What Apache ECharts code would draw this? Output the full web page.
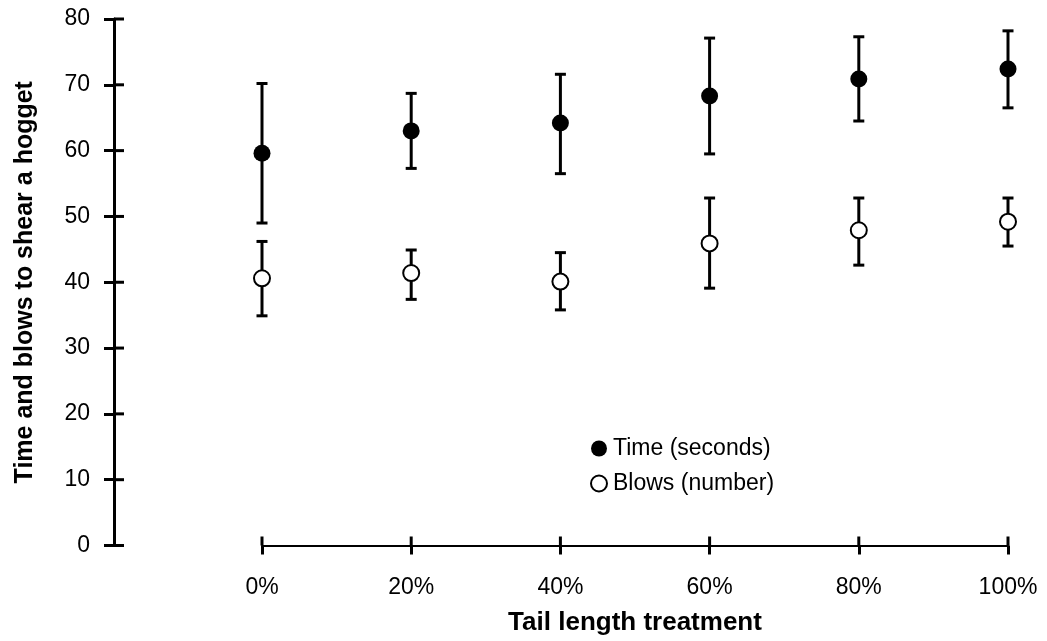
<!DOCTYPE html>
<html>
<head>
<meta charset="utf-8">
<script src="https://cdn.jsdelivr.net/npm/echarts@6/dist/echarts.min.js"></script>
<style>
  html, body { margin: 0; padding: 0; background: #fff; }
  #main { width: 1047px; height: 641px; }
</style>
</head>
<body>
<div id="main"></div>
<script>
// tail length treatment (%)
const treatments = [0, 20, 40, 60, 80, 100];
// time to shear (seconds) with error bar ends
const timeMean = [59.6, 63.0, 64.2, 68.3, 70.9, 72.4];
const timeLow  = [49.0, 57.3, 56.5, 59.5, 64.5, 66.5];
const timeHigh = [70.2, 68.7, 71.6, 77.1, 77.3, 78.2];
// blows (number) with error bar ends
const blowsMean = [40.6, 41.4, 40.1, 45.9, 47.9, 49.2];
const blowsLow  = [34.9, 37.4, 35.8, 39.1, 42.6, 45.5];
const blowsHigh = [46.2, 44.9, 44.5, 52.8, 52.8, 52.8];
const yTicks = [0, 10, 20, 30, 40, 50, 60, 70, 80];

const font = "'Liberation Sans', Arial, sans-serif";
const yAxisShift = 148;

function errData(low, high) {
    return treatments.map(function (t, i) { return [t, low[i], high[i]]; });
}
function pts(vals) {
    return treatments.map(function (t, i) { return [t, vals[i]]; });
}

function renderErr(params, api) {
    let x = api.value(0);
    let lo = api.coord([x, api.value(1)]);
    let hi = api.coord([x, api.value(2)]);
    let cap = 5.5;
    let st = { stroke: '#000', lineWidth: 3 };
    return {
        type: 'group',
        children: [
            { type: 'line', shape: { x1: lo[0], y1: lo[1], x2: hi[0], y2: hi[1] }, style: st },
            { type: 'line', shape: { x1: lo[0] - cap, y1: lo[1], x2: lo[0] + cap, y2: lo[1] }, style: st },
            { type: 'line', shape: { x1: hi[0] - cap, y1: hi[1], x2: hi[0] + cap, y2: hi[1] }, style: st }
        ]
    };
}

// inner half of the crossing ticks (the axes only draw the outer half)
function renderYTickIn(params, api) {
    let p = api.coord([0, api.value(1)]);
    let x = p[0] - yAxisShift;
    return { type: 'line', shape: { x1: x, y1: p[1], x2: x + 10, y2: p[1] }, style: { stroke: '#000', lineWidth: 3 } };
}
function renderXTickIn(params, api) {
    let p = api.coord([api.value(0), 0]);
    return { type: 'line', shape: { x1: p[0], y1: p[1], x2: p[0], y2: p[1] - 9 }, style: { stroke: '#000', lineWidth: 3 } };
}

let chart = echarts.init(document.getElementById('main'));

let option = {
    animation: false,
    textStyle: { fontFamily: font },
    grid: { left: 262, right: 39, top: 19, bottom: 95.5 },
    legend: {
        orient: 'vertical',
        left: 585,
        top: 432,
        itemGap: 12,
        itemWidth: 16,
        itemHeight: 16,
        icon: 'circle',
        textStyle: { fontSize: 23, color: '#000', fontFamily: font, padding: [0, 0, 0, 1] },
        data: ['Time (seconds)', 'Blows (number)']
    },
    xAxis: {
        type: 'value',
        min: 0, max: 100, interval: 20,
        name: 'Tail length treatment',
        nameLocation: 'middle',
        nameGap: 64,
        nameTextStyle: { fontSize: 26, fontWeight: 'bold', color: '#000', fontFamily: font },
        axisLine: { show: true, onZero: false, lineStyle: { color: '#000', width: 2 } },
        axisTick: { show: true, length: 9, lineStyle: { color: '#000', width: 3 } },
        axisLabel: { formatter: '{value}%', fontSize: 23, color: '#000', margin: 31, fontFamily: font },
        splitLine: { show: false }
    },
    yAxis: {
        type: 'value',
        min: yTicks[0], max: yTicks[yTicks.length - 1], interval: 10,
        offset: yAxisShift,
        name: 'Time and blows to shear a hogget',
        nameLocation: 'middle',
        nameGap: 76,
        nameTextStyle: { fontSize: 25, fontWeight: 'bold', color: '#000', fontFamily: font },
        axisLine: { show: true, onZero: false, lineStyle: { color: '#000', width: 3 } },
        axisTick: { show: true, length: 10, lineStyle: { color: '#000', width: 3 } },
        axisLabel: { fontSize: 23, color: '#000', margin: 24, fontFamily: font },
        splitLine: { show: false }
    },
    series: [
        {
            name: 'yTickIn',
            type: 'custom',
            clip: false,
            silent: true,
            renderItem: renderYTickIn,
            data: yTicks.map(function (v) { return [0, v]; }),
            z: 1
        },
        {
            name: 'xTickIn',
            type: 'custom',
            clip: false,
            silent: true,
            renderItem: renderXTickIn,
            data: treatments.map(function (t) { return [t, 0]; }),
            z: 1
        },
        {
            name: 'timeErr',
            type: 'custom',
            renderItem: renderErr,
            data: errData(timeLow, timeHigh),
            z: 1
        },
        {
            name: 'blowsErr',
            type: 'custom',
            renderItem: renderErr,
            data: errData(blowsLow, blowsHigh),
            z: 1
        },
        {
            name: 'Time (seconds)',
            type: 'scatter',
            symbol: 'circle',
            symbolSize: 17,
            itemStyle: { color: '#000', opacity: 1 },
            data: pts(timeMean),
            z: 3
        },
        {
            name: 'Blows (number)',
            type: 'scatter',
            symbol: 'circle',
            symbolSize: 16,
            itemStyle: { color: '#fff', borderColor: '#000', borderWidth: 2, opacity: 1 },
            data: pts(blowsMean),
            z: 3
        }
    ]
};

chart.setOption(option);
</script>
</body>
</html>
